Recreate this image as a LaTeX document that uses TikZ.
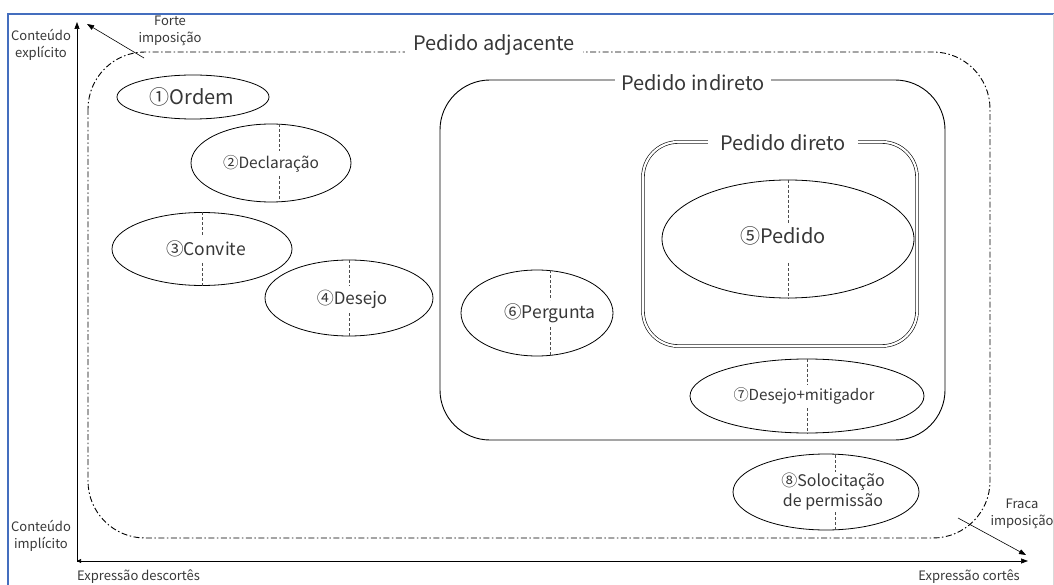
\documentclass[tikz,border=0pt]{standalone}
\usepackage{fontspec}
\setmainfont{Noto Sans CJK JP}
\usetikzlibrary{shapes.geometric,arrows.meta,calc}
\definecolor{frameblue}{RGB}{68,110,190}
\definecolor{ink}{RGB}{55,55,55}
\newcommand{\fsz}[1]{\fontsize{#1}{#1}\selectfont}
\tikzset{
  ell/.style={draw, ellipse, line width=0.8pt, inner sep=0pt},
  mid/.style={draw=black!70, densely dashed, line width=0.4pt},
  txt/.style={text=ink, inner sep=1pt},
  boxlabel/.style={text=ink, fill=white, inner xsep=6pt, inner ysep=1pt, font=\fsz{20}},
  axlabel/.style={text=ink, inner sep=0pt, align=center, font=\fontsize{13}{17}\selectfont},
  axis/.style={line width=0.7pt, -{Triangle[length=7pt,width=5pt]}},
}
\begin{document}
\begin{tikzpicture}[x=1pt,y=-1pt]
\useasboundingbox (0,0) rectangle (1054,585);
% frame
\draw[frameblue, line width=1.4pt] (8,585) -- (8,14) -- (1054,14);
\draw[black!15, line width=0.8pt] (1053,14) -- (1053,585);

% axes
\coordinate (origin) at (77,561);
\coordinate (ytop) at (77,22);
\coordinate (xend) at (1028,561);
\draw[axis] (origin) -- (ytop);
\draw[axis] (origin) -- (xend);
\draw[line width=0.7pt, -{Triangle[length=4pt,width=4pt]}] ($(origin)+(6,0)$) -- (origin);

% axis labels
\node[axlabel] (cexp) at (41,45) {Conteúdo\\explícito};
\node[axlabel] (cimp) at (41,536) {Conteúdo\\implícito};
\node[axlabel, anchor=west] (desc) at (77,577) {Expressão descortês};
\node[axlabel, anchor=east] (cort) at (1020,577) {Expressão cortês};
\node[axlabel] (forte) at (170,31) {Forte\\imposição};
\node[axlabel] (fraca) at (1022,514) {Fraca\\imposição};

% adjacent requests
\draw[line width=0.9pt, dash pattern=on 6pt off 2.5pt on 1.5pt off 2.5pt, rounded corners=57]
  (88,52) rectangle (990,538);
\node[boxlabel, inner xsep=8pt] (adj) at (494,45) {Pedido adjacente};

% strength-of-imposition arrows
\coordinate (fortefrom) at (144,58);
\coordinate (forteto) at (87,24);
\coordinate (fracafrom) at (958,518);
\coordinate (fracato) at (1026,555);
\draw[line width=0.6pt, -{Triangle[length=7pt,width=5pt]}] (fortefrom) -- (forteto);
\draw[line width=0.6pt, -{Triangle[length=7pt,width=5pt]}] (fracafrom) -- (fracato);

% indirect requests
\draw[line width=0.9pt, rounded corners=50] (440,80) rectangle (945,440);
\node[boxlabel] (ind) at (693,83) {Pedido indireto};

% direct requests
\draw[line width=0.6pt, double=white, double distance=2.2pt, rounded corners=35] (643,142) rectangle (917,346);
\node[boxlabel, inner xsep=12pt] (dir) at (783,143) {Pedido direto};

% 1 order
\node[ell, minimum width=152pt, minimum height=44pt] (e1) at (193,97) {};
\node[txt, font=\fsz{20}] (t1) at (192,97) {①Ordem};

% 2 declaration
\node[ell, minimum width=160pt, minimum height=78pt] (e2) at (271,163) {};
\node[txt, font=\fsz{15.5}] (t2) at (271,164) {②Declaração};
\draw[mid] (279,124) -- (279,151);
\draw[mid] (279,176) -- (279,202);

% 3 invitation
\node[ell, minimum width=180pt, minimum height=73pt] (e3) at (202,249) {};
\node[txt, font=\fsz{17.5}] (t3) at (206,249) {③Convite};
\draw[mid] (e3.north) -- (202,235);
\draw[mid] (202,263) -- (e3.south);

% 4 wish
\node[ell, minimum width=168pt, minimum height=76pt] (e4) at (349,298) {};
\node[txt, font=\fsz{17}] (t4) at (352,299) {④Desejo};
\draw[mid] (e4.north) -- (349,285);
\draw[mid] (349,313) -- (e4.south);

% 5 request
\node[ell, minimum width=252pt, minimum height=118pt] (e5) at (788,239) {};
\node[txt, font=\fsz{20}] (t5) at (783,236) {⑤Pedido};
\draw[mid] (e5.north) -- (788,224);
\draw[mid] (788,263) -- (e5.south);

% 6 question
\node[ell, minimum width=152pt, minimum height=86pt] (e6) at (537,313) {};
\node[txt, font=\fsz{17.5}] (t6) at (550,313) {⑥Pergunta};
\draw[mid] (550,270) -- (550,300);
\draw[mid] (550,327) -- (550,356);

% 7 wish with mitigator
\node[ell, minimum width=234pt, minimum height=74pt] (e7) at (807,396) {};
\node[txt, font=\fsz{15.2}] (t7) at (804,396) {⑦Desejo+mitigador};
\draw[mid] (e7.north) -- (807,384);
\draw[mid] (807,408) -- (e7.south);

% 8 permission request
\node[ell, minimum width=186pt, minimum height=76pt] (e8) at (826,492) {};
\node[txt, align=center, font=\fontsize{16}{20}\selectfont] (t8) at (833,492) {⑧Solocitação\\de permissão};
\draw[mid] (835,455) -- (835,472);
\draw[mid] (835,512) -- (835,530);
\end{tikzpicture}
\end{document}
